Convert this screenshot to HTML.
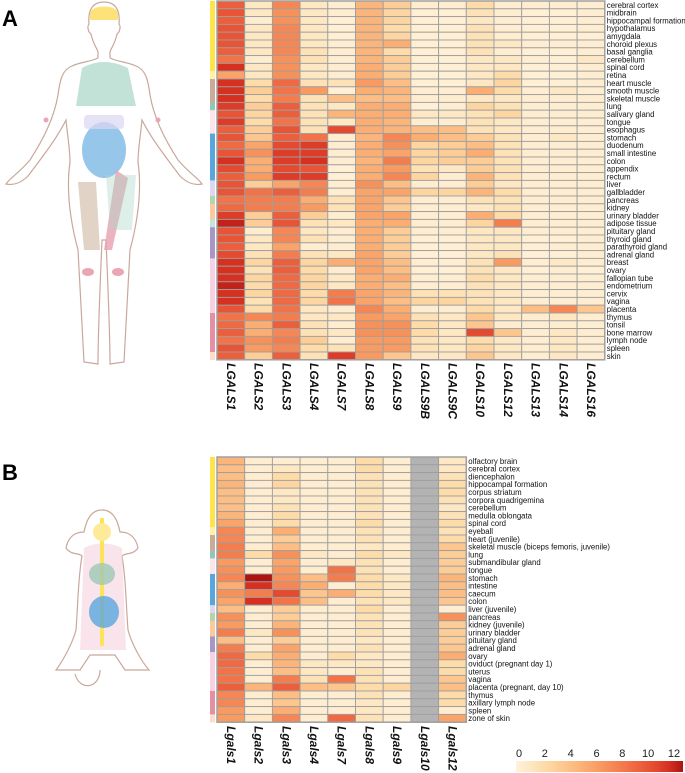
<!DOCTYPE html>
<html><head><meta charset="utf-8">
<style>
html,body{margin:0;padding:0;background:#fff;}
svg{display:block;font-family:"Liberation Sans",Arial,sans-serif;}
</style></head>
<body>
<svg id="fig" width="685" height="773" viewBox="0 0 685 773">
<text x="2" y="26" font-size="22" font-weight="bold">A</text>
<text x="2" y="480" font-size="22" font-weight="bold">B</text>
<!-- human body -->
<g stroke="#c9a89c" stroke-width="1.2">
 <path d="M104 2 C90 2 88 14 89 24 C87 26 88 32 91 34 C93 44 97 48 98 52 L98 58 C90 62 80 62 72 66 C62 70 60 80 58 95 C54 118 44 138 30 160 C20 172 10 178 6 184 C14 186 22 182 28 176 C40 160 56 140 66 120 C68 140 70 150 70 162 C66 190 70 220 78 250 C80 290 82 330 84 362 L98 364 C98 330 100 290 102 240 L106 240 C108 290 110 330 110 364 L124 362 C126 330 128 290 130 250 C138 220 142 190 138 162 C138 150 140 140 142 120 C152 140 168 160 180 176 C186 182 194 186 202 184 C198 178 188 172 178 160 C164 138 154 118 150 95 C148 80 146 70 136 66 C128 62 118 62 110 58 L110 52 C111 48 115 44 117 34 C120 32 121 26 119 24 C120 14 118 2 104 2 Z" fill="#fff"/>
</g>
<g stroke="none">
 <path d="M90 14 C90 4 118 4 118 14 L118 20 L90 20 Z" fill="#fde27a"/>
 <path d="M82 68 C96 60 112 60 128 68 L136 106 L76 106 Z" fill="#a9d6c6" opacity="0.7"/>
 <ellipse cx="104" cy="150" rx="22" ry="28" fill="#6aaee0" opacity="0.7"/>
 <rect x="84" y="115" width="40" height="14" rx="4" fill="#dcd6f2" opacity="0.7"/>
 <path d="M116 170 L128 178 L112 250 L104 250 Z" fill="#e8a0b0" opacity="0.8"/>
 <path d="M78 182 L96 182 L100 250 L84 250 Z" fill="#cdb6a0" opacity="0.6"/>
 <path d="M106 175 L136 175 L132 230 L110 230 Z" fill="#a9d6c6" opacity="0.4"/>
 <ellipse cx="88" cy="272" rx="6" ry="4" fill="#eaa6b4"/>
 <ellipse cx="118" cy="272" rx="6" ry="4" fill="#eaa6b4"/>
 <circle cx="46" cy="120" r="2.5" fill="#eaa6b4"/><circle cx="158" cy="120" r="2.5" fill="#eaa6b4"/>
</g>
<!-- mouse -->
<g>
 <path d="M102 510 C90 510 86 522 84 532 C74 532 68 538 66 548 C72 556 78 552 82 556 C78 578 78 605 76 630 C72 645 62 662 56 670 L80 670 L90 655 L115 655 L125 670 L149 670 C142 662 132 645 128 630 C126 605 126 578 122 556 C126 552 132 556 138 548 C136 538 130 532 120 532 C118 522 114 510 102 510 Z" fill="#fff" stroke="#c9a89c" stroke-width="1.2"/>
 <path d="M84 548 C95 542 110 542 122 548 L126 650 L80 650 Z" fill="#f8d8e2" opacity="0.7"/>
 <rect x="100" y="518" width="4" height="128" fill="#fde35a"/>
 <ellipse cx="102" cy="532" rx="9" ry="9" fill="#fdeb9a"/>
 <ellipse cx="102" cy="574" rx="13" ry="11" fill="#9ec8b4" opacity="0.8"/>
 <ellipse cx="104" cy="612" rx="15" ry="16" fill="#5aa6dc" opacity="0.8"/>
 <path d="M100 670 C100 688 80 692 75 674" fill="none" stroke="#c9a89c" stroke-width="1.2"/>
</g>
<g id="chartA"></g>
<g id="chartB"></g>
<g id="cbar"></g>
</svg>
<script>
const genesA = ["LGALS1","LGALS2","LGALS3","LGALS4","LGALS7","LGALS8","LGALS9","LGALS9B","LGALS9C","LGALS10","LGALS12","LGALS13","LGALS14","LGALS16"];
const tissuesA = ["cerebral cortex","midbrain","hippocampal formation","hypothalamus","amygdala","choroid plexus","basal ganglia","cerebellum","spinal cord","retina","heart muscle","smooth muscle","skeletal muscle","lung","salivary gland","tongue","esophagus","stomach","duodenum","small intestine","colon","appendix","rectum","liver","gallbladder","pancreas","kidney","urinary bladder","adipose tissue","pituitary gland","thyroid gland","parathyroid gland","adrenal gland","breast","ovary","fallopian tube","endometrium","cervix","vagina","placenta","thymus","tonsil","bone marrow","lymph node","spleen","skin"];
const valuesA = [
[9,1,7,1,0.5,4.5,3,0.5,0.5,2,0.5,0.5,0.5,0.5],
[9.5,1,6.5,1,0.5,4.5,2.5,0.3,0.3,1.5,0.5,0.3,0.3,0.5],
[9,0.5,6.5,1,0.3,4.5,2.5,0.3,0.3,1,0.5,0.3,0.3,0.5],
[9.5,1,7,1,0.3,4.5,2,0.3,0.3,1.5,0.5,0.3,0.3,0.5],
[9.5,1,7,1,0.3,4.5,2.5,0.3,0.3,1.5,0.5,0.3,0.3,0.3],
[9.5,1,7,1,0.5,4.5,5,0.3,0.3,1.5,1,0.5,0.5,0.5],
[9,1,7,1.5,0.5,4.5,2,0.3,0.3,1.5,0.5,0.3,0.3,0.5],
[8,0.5,6.5,1.5,0.5,4.5,3,0.3,0.3,1,1,0.5,0.3,1],
[11,1,6.5,1,0.5,5,3,0.3,0.3,1,1,0.3,0.3,0.5],
[5.5,1,6.5,1,0.5,5,3,0.3,0.3,1,2,0.3,0.3,0.5],
[11,2,8.5,1.5,1.5,6,4,0.3,0.3,1,2.5,0.3,0.3,0.5],
[11,3,8,6,0.3,5,4.5,0.5,0.5,5,2,0.5,1,0.5],
[11,2,7.5,1.5,4,4,4,0.5,0.5,1,1,0.5,0.5,0.5],
[10.5,3,9,1.5,1,5,5,0.3,0.5,2.5,1.5,0.5,0.5,0.5],
[9.5,2.5,9,1.5,4.5,5,5,1,1,1.5,2.5,0.5,0.5,0.5],
[10.5,2,8,1.5,1,5,4.5,0.5,0.5,1.5,1,0.5,0.5,0.5],
[9,3,9.5,1.5,10,5,4.5,4,4,1.5,1,0.5,0.5,0.5],
[9.5,3.5,9,8,0.5,4.5,7,5,4,3,1.5,0.5,1,0.5],
[8.5,5.5,10,10.5,0.5,5,6.5,2.5,3,4,1.5,0.5,0.5,0.5],
[9.5,6.5,10.5,10.5,0.5,5,5.5,2.5,3,5,1.5,0.5,0.5,0.5],
[11,5,10.5,11,0.5,4.5,7.5,2.5,3,3,1.5,0.5,0.5,0.5],
[10,5,10,9.5,0.3,5,6,1.5,1,3,1.5,0.5,0.5,0.5],
[9,6,10.5,10.5,0.3,5,7,2.5,0.5,4.5,1.5,0.5,0.5,0.5],
[9.5,3,5.5,7,0.5,6.5,4,0.5,0.5,3,1,0.5,0.5,0.5],
[9.5,8,9,7.5,0.5,5.5,5.5,2.5,2.5,4.5,2,0.5,0.5,0.5],
[8,7.5,7.5,5,1.5,5.5,3.5,0.5,0.5,1.5,1.5,0.5,0.5,0.5],
[8.5,7.5,7.5,6,1.5,5.5,3,0.5,0.5,1,1.5,0.5,0.5,0.5],
[10.5,3,9,3,0.5,5.5,5.5,0.5,0.5,5,2,0.5,0.5,0.5],
[11.5,3,9.5,1.5,1,5,5,0.5,0.5,2.5,7.5,0.5,0.5,0.5],
[9.5,0.5,7,1,0.5,5,3,0.5,0.5,1,1,0.5,0.5,0.5],
[9.5,1,7,1.5,0.5,5,3,0.3,0.3,1,1,0.3,0.3,0.5],
[9,1,5.5,0.5,0.5,5,3,0.3,0.3,1,1,0.3,0.5,0.5],
[10,1.5,7.5,1.5,1,5.5,3,0.3,0.3,1,1.5,0.3,0.3,0.5],
[11,2.5,9,2.5,5,5.5,4,0.5,0.5,1.5,6,0.5,1,0.5],
[11,1.5,9,2,0.5,5.5,4,0.3,0.3,1.5,1,0.3,0.5,0.3],
[11,2.5,8.5,2.5,1,5,5,0.5,0.5,2,1,0.5,0.5,0.5],
[11.5,2,8.5,2.5,1,5,4,0.5,0.5,1.5,1,0.5,0.5,0.5],
[11,2.5,8.5,2,7.5,5.5,4.5,1.5,1.5,1.5,1,0.5,0.5,0.5],
[11,1.5,8.5,2.5,8,5.5,4,2.5,2.5,1.5,1,0.5,0.5,0.5],
[9.5,2,8,1,0.5,7,5,0.5,0.5,2,1,4,7,3.5],
[8,7,7.5,1,1,6,5.5,1.5,1,3.5,1,0.5,1,0.5],
[8.5,5,9,1.5,0.5,6.5,6.5,2,1,3.5,0.5,0.5,0.5,0.5],
[9,5,7,1.5,1,6.5,6.5,2,1,10,3.5,0.5,1,0.5],
[8,6.5,7.5,3,0.5,6,6,1.5,1,2,1,0.5,1,0.5],
[9.5,6,7,2,1.5,6,6,1.5,1,2.5,1,0.5,1,0.5],
[9,3,9,1.5,10.5,6,3.5,1,1,3.5,1,0.5,1,0.5]
];
const groupsA = ["brain","brain","brain","brain","brain","brain","brain","brain","brain","eye","muscle","muscle","muscle","lung","oral","oral","oral","gi","gi","gi","gi","gi","gi","liver","liver","pancreas","kidney","kidney","adipose","endocrine","endocrine","endocrine","endocrine","repro","repro","repro","repro","repro","repro","repro","immune","immune","immune","immune","immune","skin"];
const genesB = ["Lgals1","Lgals2","Lgals3","Lgals4","Lgals7","Lgals8","Lgals9","Lgals10","Lgals12"];
const tissuesB = ["olfactory brain","cerebral cortex","diencephalon","hippocampal formation","corpus striatum","corpora quadrigemina","cerebellum","medulla oblongata","spinal cord","eyeball","heart (juvenile)","skeletal muscle (biceps femoris, juvenile)","lung","submandibular gland","tongue","stomach","intestine","caecum","colon","liver (juvenile)","pancreas","kidney (juvenile)","urinary bladder","pituitary gland","adrenal gland","ovary","oviduct (pregnant day 1)","uterus","vagina","placenta (pregnant, day 10)","thymus","axillary lymph node","spleen","zone of skin"];
const valuesB = [
[4.5,0.5,0.5,0.5,0.5,2,0.5,null,1],
[4,0.5,1,0.5,0.5,2,0.5,null,1],
[4,0.5,2,0.5,0.5,1.5,0.5,null,1.5],
[4.5,0.5,2.5,0.5,0.5,1.5,0.5,null,2],
[4,0.5,1,0.5,0.5,1.5,0.5,null,2],
[4,0.5,1,0.5,0.5,1.5,0.5,null,1.5],
[4,0.5,1.5,0.5,0.5,1.5,0.5,null,1],
[4.5,0.5,2,0.5,0.5,1.5,0.5,null,1.5],
[5.5,0.5,2,0.5,0.5,2,0.5,null,2],
[7,0.5,5,0.5,0.5,1.5,0.5,null,1.5],
[7,0.5,3,0.5,0.5,1.5,0.5,null,2],
[7.5,0.5,4,0.5,0.5,1,0.5,null,3.5],
[7.5,2,6.5,1,0.5,2,1,null,3],
[6,0.5,5.5,0.5,1,1.5,0.5,null,3],
[6.5,0.5,6,0.5,8,1.5,0.5,null,3],
[7,12,6.5,4,7.5,2,1,null,4.5],
[5,11,7,5,0.5,2,1,null,4],
[6.5,7.5,10,3.5,5,2,1,null,4],
[5.5,11,8,4,0.5,1.5,1,null,3.5],
[4,0.5,3,0.5,0.5,2,0.5,null,0.5],
[6.5,0.5,3,0.5,0.5,1.5,0.5,null,6.5],
[6,0.5,4.5,0.5,0.5,1.5,0.5,null,3],
[7.5,1,6.5,0.5,0.5,1.5,0.5,null,3],
[4,0.5,3,0.5,0.5,1,0.5,null,3],
[7.5,0.5,5.5,0.5,0.5,1.5,0.5,null,3.5],
[8.5,2,5,0.5,2,1,0.5,null,5],
[8.5,0.5,4.5,1,1,1,0.5,null,2],
[8,0.5,4,1,0.5,1.5,0.5,null,2],
[8,0.5,7.5,1.5,8,1.5,0.5,null,3.5],
[9,4.5,9,4,3.5,2,2.5,null,4],
[7,0.5,4,0.5,0.5,1.5,0.5,null,2],
[7,0.5,3.5,0.5,0.5,1,0.5,null,2],
[6,0.5,5,0.5,0.5,1,0.5,null,0.5],
[6,1,7,0.5,8.5,1.5,0.5,null,5.5]
];
const groupsB = ["brain","brain","brain","brain","brain","brain","brain","brain","brain","eye","muscle","muscle","lung","oral","oral","gi","gi","gi","gi","liver","pancreas","kidney","kidney","endocrine","endocrine","repro","repro","repro","repro","repro","immune","immune","immune","skin"];
const scaleTicks = [0,2,4,6,8,10,12];

const groupColor = {brain:"#fde44c",eye:"#fff2a8",muscle:"#c9ab98",lung:"#93c6b6",oral:"#fce4ea",gi:"#58a6dc",liver:"#dcd8f0",pancreas:"#b2d6a6",kidney:"#fcc89c",adipose:"#bfe6dc",endocrine:"#a897c6",repro:"#f8d0e4",immune:"#e48fa2",skin:"#fddccb"};
const stops = [[0,[254,242,220]],[2,[253,220,170]],[4,[252,190,132]],[6,[249,155,96]],[8,[242,115,72]],[10,[228,74,48]],[11,[214,48,32]],[12,[172,20,18]]];
function colorOf(v){
  if(v===null) return "#b3b3b3";
  v=Math.max(0,Math.min(12,v));
  for(let i=0;i<stops.length-1;i++){
    const a=stops[i],b=stops[i+1];
    if(v<=b[0]){const t=(v-a[0])/(b[0]-a[0]);
      const c=a[1].map((x,k)=>Math.round(x+(b[1][k]-x)*t));
      return "rgb("+c.join(",")+")";}
  }
  return "rgb(172,20,18)";
}
const NS="http://www.w3.org/2000/svg";
function mk(tag,attrs,parent){const e=document.createElementNS(NS,tag);for(const k in attrs)e.setAttribute(k,attrs[k]);parent.appendChild(e);return e;}

function drawHeatmap(g, genes, tissues, values, groups, top, labelTop){
  const left=217, cw=27.7, rh=7.8;
  const xOf=i=>left+i*cw, yOf=j=>top+j*rh;
  const W=genes.length*cw, H=tissues.length*rh;
  tissues.forEach((t,j)=>{
    const bar=mk("rect",{x:210,y:yOf(j),width:5,height:rh+0.2,fill:groupColor[groups[j]]},g);
    
    
    genes.forEach((gn,i)=>{
      const c=mk("rect",{x:xOf(i),y:yOf(j),width:cw,height:rh,fill:colorOf(values[j][i]),stroke:"#9e9e9e","stroke-width":0.9},g);
      
      
    });
    const tl=mk("text",{x:left+W+2,y:yOf(j)+rh-1,"font-size":"7.8",fill:"#111"},g);
    tl.textContent=t;
    
    
  });
  const border=mk("rect",{x:left,y:top,width:W,height:H,fill:"none",stroke:"#a0a0a0","stroke-width":1.5},g);
  
  
  genes.forEach((gn,i)=>{
    const cx=xOf(i)+cw/2-4;
    const tx=mk("text",{x:cx,y:labelTop,"font-size":"12","font-weight":"bold","font-style":"italic",fill:"#111",transform:"rotate(90 "+cx+" "+labelTop+")"},g);
    tx.textContent=gn;
    
    
  });
}
drawHeatmap(document.getElementById("chartA"),genesA,tissuesA,valuesA,groupsA,1,363);
drawHeatmap(document.getElementById("chartB"),genesB,tissuesB,valuesB,groupsB,457,726);

(function(){
  const g=document.getElementById("cbar");
  const defs=mk("defs",{},g);
  const lg=mk("linearGradient",{id:"cg",x1:"0",x2:"1",y1:"0",y2:"0"},defs);
  stops.forEach(s=>mk("stop",{offset:(s[0]/12),"stop-color":"rgb("+s[1].join(",")+")"},lg));
  const x0=516,x1=683;
  const r=mk("rect",{x:x0,y:761,width:x1-x0,height:11,fill:"url(#cg)"},g);
  
  
  const sx=v=>519+(674-519)*v/12;
  scaleTicks.forEach(v=>{
    const t=mk("text",{x:sx(v),y:757,"font-size":"11","text-anchor":"middle",fill:"#222"},g);
    t.textContent=v;
    
    
  });
})();
</script>
</body></html>
